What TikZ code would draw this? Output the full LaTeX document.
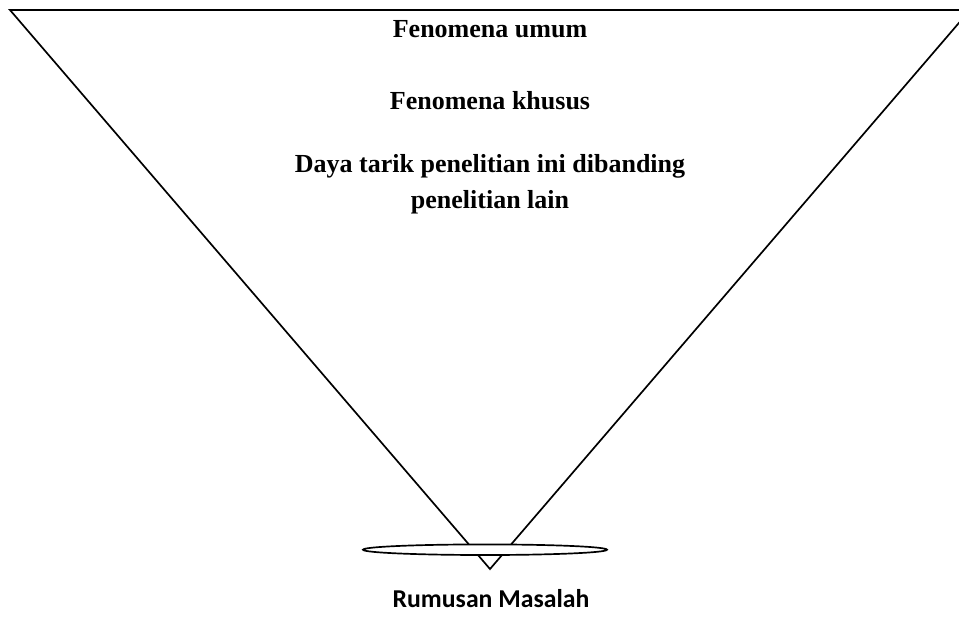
\documentclass[tikz,border=0pt]{standalone}
\usepackage{fontspec}
\setmainfont{Liberation Serif}
\newfontfamily\calibrifont{Carlito}
\usepackage{tikz}

\tikzset{
  funnel/.style={line width=1.2pt, line join=miter},
  toptext/.style={anchor=base, inner sep=0pt, align=center,
    font=\fontsize{18.5}{25}\selectfont\bfseries},
  endtext/.style={anchor=base, inner sep=0pt,
    font=\calibrifont\fontsize{18.3}{22}\selectfont\bfseries}
}

\begin{document}
\begin{tikzpicture}[x=0.025cm, y=-0.025cm]
            \useasboundingbox (0,0) rectangle (959,620);
            \clip (0,0) rectangle (959,620);

            % corong
            \draw[funnel]  (10,10) -- (970,10) -- (490,569) -- cycle;
            \draw[funnel, fill=white]  (485,549.7) ellipse (3.05cm and 0.1325cm);

            % teks
            \node[toptext] (umum)   at (490,37)  {Fenomena umum};
            \node[toptext] (khusus) at (490,109) {Fenomena khusus};
            \node[toptext] (daya)   at (490,208) {Daya tarik penelitian ini dibanding\\penelitian lain};
            \node[endtext] (rumusan) at (491,607) {Rumusan Masalah};
\end{tikzpicture}
\end{document}
